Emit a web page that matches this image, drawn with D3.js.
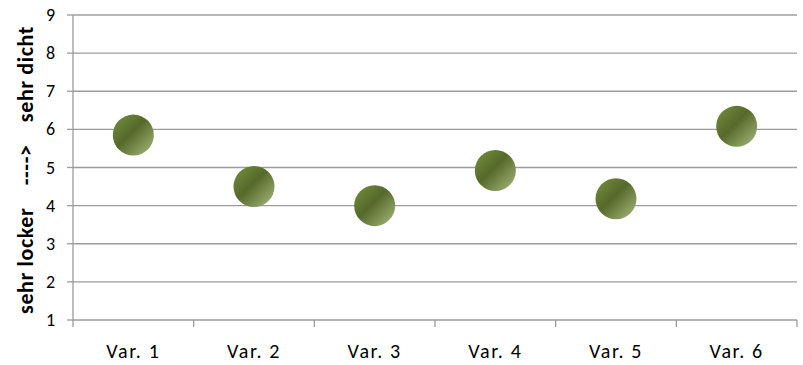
<!DOCTYPE html>
<html>
<head>
<meta charset="utf-8">
<script src="https://cdn.jsdelivr.net/npm/d3@7/dist/d3.min.js"></script>
<style>
  body { margin: 0; background: #fff; }
  svg { display: block; }
  text { font-family: Carlito, Lato, "Liberation Sans", sans-serif; }
</style>
</head>
<body>
<svg id="chart" width="803" height="365"></svg>
<script>
const categories = ["Var. 1", "Var. 2", "Var. 3", "Var. 4", "Var. 5", "Var. 6"];
const values = [5.85, 4.5, 4.0, 4.92, 4.18, 6.08];
const yTicks = [1, 2, 3, 4, 5, 6, 7, 8, 9];
const axisTitle = "sehr locker    ---->    sehr dicht";

const svg = d3.select("#chart");
const margin = { left: 73, right: 6, top: 15, bottom: 45 };
const W = 803, H = 365;
const gridColor = "#9c9c9c";

const x = d3.scaleBand().domain(categories).range([margin.left, W - margin.right]).padding(0);
const y = d3.scaleLinear().domain([1, 9]).range([H - margin.bottom, margin.top]);

const defs = svg.append("defs");
const grad = defs.append("linearGradient")
  .attr("id", "ball").attr("x1", "0%").attr("y1", "0%").attr("x2", "100%").attr("y2", "100%");
grad.append("stop").attr("offset", "0%").attr("stop-color", "#76913f");
grad.append("stop").attr("offset", "45%").attr("stop-color", "#56692a");
grad.append("stop").attr("offset", "100%").attr("stop-color", "#a9bd80");

// horizontal gridlines
svg.append("g").selectAll("line").data(yTicks.slice(1)).join("line")
  .attr("x1", margin.left).attr("x2", W - margin.right)
  .attr("y1", d => y(d)).attr("y2", d => y(d))
  .attr("stroke", gridColor).attr("stroke-width", 1.3);

// y axis: line, outward ticks and right-aligned labels
const yAxis = svg.append("g");
yAxis.append("line").attr("x1", margin.left).attr("x2", margin.left)
  .attr("y1", y(1)).attr("y2", y(9)).attr("stroke", gridColor).attr("stroke-width", 1.3);
yAxis.selectAll(".tk").data(yTicks).join("line").attr("class", "tk")
  .attr("x1", margin.left - 6).attr("x2", margin.left)
  .attr("y1", d => y(d)).attr("y2", d => y(d))
  .attr("stroke", gridColor).attr("stroke-width", 1.3);
yAxis.selectAll(".lbl").data(yTicks).join("text").attr("class", "lbl")
  .attr("x", margin.left - 18).attr("y", d => y(d)).attr("dy", "0.34em")
  .attr("text-anchor", "end").attr("font-size", 18).attr("fill", "#000")
  .text(d3.format("d"));

// x axis with ticks between categories
const xAxisG = svg.append("g").attr("transform", `translate(0,${y(1)})`);
xAxisG.append("line").attr("x1", margin.left).attr("x2", W - margin.right)
  .attr("stroke", gridColor).attr("stroke-width", 1.3);
const bounds = categories.map(c => x(c)).concat([x(categories[categories.length - 1]) + x.bandwidth()]);
xAxisG.selectAll(".tk").data(bounds).join("line").attr("class", "tk")
  .attr("x1", d => d).attr("x2", d => d).attr("y1", 0).attr("y2", 7)
  .attr("stroke", gridColor).attr("stroke-width", 1.3);
xAxisG.selectAll(".lbl").data(categories).join("text").attr("class", "lbl")
  .attr("x", d => x(d) + x.bandwidth() / 2).attr("y", 38)
  .attr("text-anchor", "middle").attr("font-size", 20).attr("letter-spacing", 1.6)
  .attr("fill", "#000")
  .text(d => d);

// axis title
svg.append("text")
  .attr("transform", `translate(33,170) rotate(-90)`)
  .attr("text-anchor", "middle").attr("font-size", 22).attr("font-weight", "bold")
  .attr("letter-spacing", 0.6).attr("fill", "#000").style("white-space", "pre")
  .text(axisTitle);

// markers
svg.append("g").selectAll("circle").data(values).join("circle")
  .attr("cx", (d, i) => x(categories[i]) + x.bandwidth() / 2)
  .attr("cy", d => y(d))
  .attr("r", 20.5)
  .attr("fill", "url(#ball)");
</script>
</body>
</html>
